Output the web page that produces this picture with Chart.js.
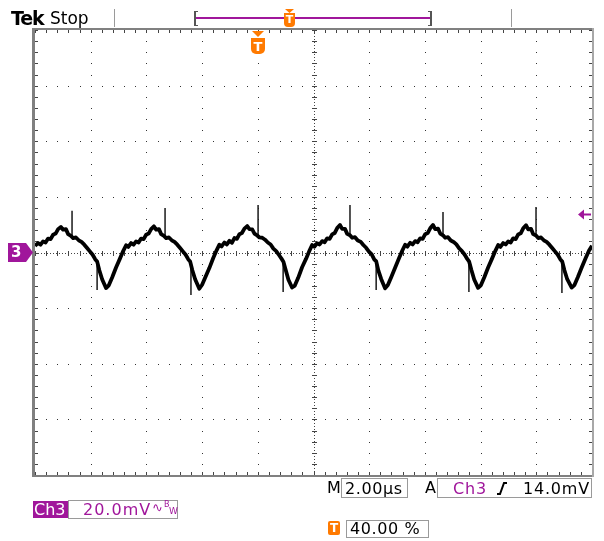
<!DOCTYPE html>
<html>
<head>
<meta charset="utf-8">
<script src="https://cdn.jsdelivr.net/npm/chart.js@4.4.0/dist/chart.umd.min.js"></script>
<style>
  html, body { margin: 0; padding: 0; background: #fff; }
  #scope { position: relative; width: 604px; height: 541px; font-family: "DejaVu Sans", sans-serif; overflow: hidden; }
  #scope canvas { position: absolute; left: 0; top: 0; }
  .lbl { position: absolute; white-space: nowrap; line-height: 1; font-size: 16px; color: #000; }
  .box { position: absolute; border: 1px solid #9a9a9a; box-sizing: border-box; }
  .mag { color: #a0169b; }
  .vline { position: absolute; width: 1px; background: #9a9a9a; }
  .tmark { position: absolute; background: #ff7a00; color: #fff; font-weight: bold; text-align: center; line-height: 1; }
</style>
</head>
<body>
<div id="scope">
  <canvas id="chart" width="604" height="541"></canvas>

  <!-- header -->
  <div class="lbl" style="left:11px;top:9px;font-size:19px;font-weight:bold;letter-spacing:-1.2px">Tek</div>
  <div class="lbl" style="left:50px;top:10px;font-size:17px">Stop</div>
  <div class="vline" style="left:114px;top:9px;height:18px"></div>
  <div class="vline" style="left:511px;top:9px;height:18px"></div>
  <div style="position:absolute;left:194px;top:11px;width:2px;height:15px;background:#555"></div>
  <div style="position:absolute;left:194px;top:11px;width:4px;height:1px;background:#555"></div>
  <div style="position:absolute;left:194px;top:25px;width:4px;height:1px;background:#555"></div>
  <div style="position:absolute;left:430px;top:11px;width:2px;height:15px;background:#555"></div>
  <div style="position:absolute;left:428px;top:11px;width:4px;height:1px;background:#555"></div>
  <div style="position:absolute;left:428px;top:25px;width:4px;height:1px;background:#555"></div>
  <div style="position:absolute;left:196px;top:17px;width:234px;height:2px;background:#a0169b"></div>
  <div class="tmark" style="left:285px;top:9px;width:9px;height:4px;clip-path:polygon(0 0,100% 0,50% 100%)"></div>
  <div class="tmark" style="left:284px;top:13px;width:11px;height:14px;font-size:11px;padding-top:1px;box-sizing:border-box;border-radius:0 0 4px 4px">T</div>

  <!-- trigger position marker under the frame -->
  <div class="tmark" style="left:252px;top:31px;width:12px;height:6px;clip-path:polygon(0 0,100% 0,50% 100%)"></div>
  <div class="tmark" style="left:251px;top:38px;width:14px;height:16px;font-size:13px;padding-top:2px;box-sizing:border-box;border-radius:0 0 5px 5px">T</div>

  <!-- channel 3 ground marker -->
  <div style="position:absolute;left:8px;top:243px;width:25px;height:19px;background:#a0169b;clip-path:polygon(0 0,72% 0,100% 50%,72% 100%,0 100%)"></div>
  <div class="lbl" style="left:11px;top:245px;font-size:15px;font-weight:bold;color:#fff">3</div>

  <!-- footer -->
  <div style="position:absolute;left:33px;top:501px;width:35px;height:17px;background:#a0169b"></div>
  <div class="lbl" style="left:34px;top:502px;color:#fff">Ch3</div>
  <div class="box" style="left:68px;top:500px;width:110px;height:19px"></div>
  <div class="lbl mag" style="left:83px;top:502px;letter-spacing:1px">20.0mV</div>
  <div class="lbl mag" style="left:152px;top:501px;font-size:13px">∿</div>
  <div class="lbl mag" style="left:164px;top:501px;font-size:8px">B</div>
  <div class="lbl mag" style="left:169px;top:507px;font-size:9px">W</div>

  <div class="lbl" style="left:327px;top:480px">M</div>
  <div class="box" style="left:341px;top:478px;width:67px;height:20px"></div>
  <div class="lbl" style="left:345px;top:481px;letter-spacing:0.6px">2.00µs</div>
  <div class="lbl" style="left:425px;top:480px">A</div>
  <div class="box" style="left:437px;top:478px;width:155px;height:20px"></div>
  <div class="lbl mag" style="left:453px;top:481px;letter-spacing:0.8px">Ch3</div>
  <svg style="position:absolute;left:496px;top:481px" width="12" height="15">
    <path d="M1 13 H4 L8 2 H11" fill="none" stroke="#000" stroke-width="2"/>
  </svg>
  <div class="lbl" style="left:523px;top:481px;letter-spacing:0.8px">14.0mV</div>

  <div class="tmark" style="left:328px;top:521px;width:12px;height:14px;font-size:12px;padding-top:1px;box-sizing:border-box;border-radius:2px">T</div>
  <div class="box" style="left:346px;top:520px;width:83px;height:18px"></div>
  <div class="lbl" style="left:350px;top:521px;letter-spacing:0.6px">40.00 %</div>
</div>

<script>
// Ch3 izi: vaqt (µs) va kuchlanish (mV), 2.00 µs/div, 20.0 mV/div.

const X_MIN = 0, X_MAX = 20, X_DIV = 2;
const Y_MIN = -80, Y_MAX = 80, Y_DIV = 20;
const TRIG_LEVEL = 14.0; // mV

const MAG = "#a0169b";

// asosiy iz (shovqinli uchburchaksimon to'lqin)
const traceT = [
  0.00, 0.11, 0.20, 0.29, 0.38, 0.47, 0.56, 0.65, 0.74, 0.83, 0.93, 1.01, 1.11, 1.19, 1.29, 1.37, 1.47, 1.57, 1.67, 1.77, 1.87, 1.97, 2.07, 2.16, 2.23, 2.31, 2.41,
  2.55, 2.65, 2.77, 2.91, 3.05, 3.17, 3.27, 3.35, 3.45, 3.54, 3.63, 3.72, 3.81, 3.90, 3.99, 4.08, 4.17, 4.27, 4.35, 4.45, 4.53, 4.63, 4.71, 4.81, 4.91, 5.01, 5.11, 5.21, 5.31, 5.41, 5.50, 5.57, 5.65, 5.75,
  5.90, 6.00, 6.12, 6.26, 6.40, 6.52, 6.62, 6.70, 6.80, 6.89, 6.98, 7.07, 7.16, 7.25, 7.34, 7.43, 7.52, 7.62, 7.70, 7.80, 7.88, 7.98, 8.06, 8.16, 8.26, 8.36, 8.46, 8.56, 8.66, 8.76, 8.85, 8.92, 9.00, 9.10,
  9.23, 9.33, 9.45, 9.59, 9.73, 9.85, 9.95, 10.03, 10.13, 10.22, 10.31, 10.40, 10.49, 10.58, 10.67, 10.76, 10.85, 10.95, 11.03, 11.13, 11.21, 11.31, 11.39, 11.49, 11.59, 11.69, 11.79, 11.89, 11.99, 12.09, 12.18, 12.25, 12.33, 12.43,
  12.57, 12.67, 12.79, 12.93, 13.07, 13.19, 13.29, 13.37, 13.47, 13.56, 13.65, 13.74, 13.83, 13.92, 14.01, 14.10, 14.19, 14.29, 14.37, 14.47, 14.55, 14.65, 14.73, 14.83, 14.93, 15.03, 15.13, 15.23, 15.33, 15.43, 15.52, 15.59, 15.67, 15.77,
  15.91, 16.01, 16.13, 16.27, 16.41, 16.53, 16.63, 16.71, 16.81, 16.90, 16.99, 17.08, 17.17, 17.26, 17.35, 17.44, 17.53, 17.63, 17.71, 17.81, 17.89, 17.99, 18.07, 18.17, 18.27, 18.37, 18.47, 18.57, 18.67, 18.77, 18.86, 18.93, 19.01, 19.11,
  19.27, 19.37, 19.49, 19.63, 19.77, 19.89, 20.00,
];
const traceMV = [
  2.4, 3.4, 2.8, 4.0, 3.6, 5.0, 4.8, 6.4, 6.8, 8.4, 9.2, 8.2, 8.4, 6.6, 6.0, 5.2, 5.4, 4.4, 3.8, 2.8, 1.6, 0.4, -0.8, -2.4, -3.2, -6.4, -9.6,
  -12.8, -11.8, -9.0, -5.4, -2.2, 0.6, 2.6, 2.0, 3.4, 2.8, 4.0, 3.6, 5.0, 4.8, 6.4, 6.8, 8.4, 9.4, 8.2, 8.4, 6.6, 6.0, 5.2, 5.4, 4.4, 3.8, 2.8, 1.6, 0.4, -0.8, -2.4, -3.2, -6.4, -9.6,
  -13.0, -11.6, -8.8, -5.6, -2.0, 0.8, 2.8, 2.2, 3.6, 2.9, 4.2, 3.5, 5.2, 4.9, 6.6, 7.0, 8.6, 9.5, 8.4, 8.3, 6.8, 6.1, 5.4, 5.3, 4.6, 3.6, 2.9, 1.4, 0.5, -0.9, -2.2, -3.3, -6.2, -9.8,
  -12.6, -11.9, -9.1, -5.3, -2.3, 0.5, 2.7, 2.1, 3.3, 2.9, 4.1, 3.7, 5.1, 4.9, 6.5, 7.0, 8.8, 9.9, 8.5, 8.5, 6.7, 6.2, 5.3, 5.5, 4.3, 3.9, 2.7, 1.7, 0.3, -0.7, -2.5, -3.1, -6.5, -9.5,
  -12.9, -11.7, -8.9, -5.5, -2.1, 0.7, 2.8, 2.1, 3.5, 2.9, 4.1, 3.7, 5.1, 4.9, 6.6, 7.0, 8.7, 9.9, 8.4, 8.6, 6.8, 6.2, 5.3, 5.5, 4.3, 3.8, 2.9, 1.5, 0.5, -0.8, -2.3, -3.3, -6.3, -9.7,
  -12.7, -11.8, -9.0, -5.4, -2.2, 0.6, 2.7, 2.0, 3.4, 2.9, 4.0, 3.6, 5.1, 4.8, 6.5, 6.9, 8.7, 9.8, 8.3, 8.5, 6.6, 6.1, 5.2, 5.4, 4.4, 3.8, 2.8, 1.6, 0.4, -0.8, -2.4, -3.2, -6.4, -9.6,
  -12.6, -11.7, -8.9, -5.4, -2.1, 0.6, 2.4,
];

// ingichka ignalar (yuqoriga va pastga)
const spikeUpT      = [1.33, 4.67, 8.01, 11.31, 14.65, 17.99];
const spikeUpBase   = [5.8, 5.8, 5.8, 6.0, 6.0, 5.8];
const spikeUpTop    = [15.0, 16.0, 17.1, 17.1, 14.6, 16.4];
const spikeDownT      = [2.23, 5.60, 8.91, 12.25, 15.58, 18.92];
const spikeDownBase   = [-3.2, -3.2, -3.2, -3.1, -3.3, -3.2];
const spikeDownBottom = [-13.5, -15.3, -14.2, -13.5, -14.2, -14.6];

const tracePts = traceT.map((t, i) => ({ x: t, y: traceMV[i] }));
const spikePts = [];
spikeUpT.forEach((t, i) => {
  spikePts.push({ x: t, y: spikeUpBase[i] }, { x: t, y: spikeUpTop[i] }, { x: t, y: null });
});
spikeDownT.forEach((t, i) => {
  spikePts.push({ x: t, y: spikeDownBase[i] }, { x: t, y: spikeDownBottom[i] }, { x: t, y: null });
});

// ossillograf to'ri: nuqtali chiziqlar, markaziy o'qlar va ramka
const graticule = {
  id: "graticule",
  beforeDatasetsDraw(chart) {
    const { ctx, chartArea: a, scales: { x, y } } = chart;
    const px = (v) => Math.round(x.getPixelForValue(v));
    const py = (v) => Math.round(y.getPixelForValue(v));
    ctx.save();

    // katak nuqtalari
    ctx.fillStyle = "#333";
    for (let v = X_MIN + X_DIV; v < X_MAX; v += X_DIV) {
      if (v === (X_MIN + X_MAX) / 2) continue;
      for (let s = Y_MIN; s <= Y_MAX + 1e-9; s += Y_DIV / 5) ctx.fillRect(px(v), py(s), 1, 1);
    }
    for (let v = Y_MIN + Y_DIV; v < Y_MAX; v += Y_DIV) {
      if (v === 0) continue;
      for (let s = X_MIN; s <= X_MAX + 1e-9; s += X_DIV / 5) ctx.fillRect(px(s), py(v), 1, 1);
    }

    // markaziy chiziqlar
    const cx = px((X_MIN + X_MAX) / 2), cy = py(0);
    ctx.strokeStyle = "#444";
    ctx.lineWidth = 1;
    ctx.setLineDash([1, 2]);
    ctx.beginPath();
    ctx.moveTo(a.left, cy + 0.5); ctx.lineTo(a.right, cy + 0.5);
    ctx.moveTo(cx + 0.5, a.top); ctx.lineTo(cx + 0.5, a.bottom);
    ctx.stroke();
    ctx.setLineDash([]);

    ctx.beginPath();
    for (let s = X_MIN; s <= X_MAX + 1e-9; s += X_DIV / 5) {
      const p = px(s) + 0.5;
      ctx.moveTo(p, cy - 2); ctx.lineTo(p, cy + 3);
      ctx.moveTo(p, a.top); ctx.lineTo(p, a.top + 3);
      ctx.moveTo(p, a.bottom - 3); ctx.lineTo(p, a.bottom);
    }
    for (let s = Y_MIN; s <= Y_MAX + 1e-9; s += Y_DIV / 5) {
      const p = py(s) + 0.5;
      ctx.moveTo(cx - 2, p); ctx.lineTo(cx + 3, p);
      ctx.moveTo(a.left, p); ctx.lineTo(a.left + 3, p);
      ctx.moveTo(a.right - 3, p); ctx.lineTo(a.right, p);
    }
    ctx.stroke();

    // ramka
    ctx.fillStyle = "#808080";
    ctx.fillRect(a.left - 2, a.top - 2, a.right - a.left + 4, 2);
    ctx.fillRect(a.left - 2, a.bottom, a.right - a.left + 4, 2);
    ctx.fillRect(a.left - 3, a.top - 2, 3, a.bottom - a.top + 4);
    ctx.fillStyle = "#a8a8a8";
    ctx.fillRect(a.right, a.top - 2, 2, a.bottom - a.top + 4);
    ctx.restore();
  },
  afterDatasetsDraw(chart) {
    // trigger darajasi strelkasi (o'ngda)
    const { ctx, chartArea: a, scales: { y } } = chart;
    const ty = Math.round(y.getPixelForValue(TRIG_LEVEL)) + 0.5;
    ctx.save();
    ctx.fillStyle = MAG;
    ctx.strokeStyle = MAG;
    ctx.beginPath();
    ctx.moveTo(a.right - 14, ty);
    ctx.lineTo(a.right - 8, ty - 5);
    ctx.lineTo(a.right - 8, ty + 5);
    ctx.closePath();
    ctx.fill();
    ctx.lineWidth = 2;
    ctx.beginPath();
    ctx.moveTo(a.right - 9, ty); ctx.lineTo(a.right - 1, ty);
    ctx.stroke();
    ctx.restore();
  },
};

new Chart(document.getElementById("chart"), {
  type: "line",
  data: {
    datasets: [
      {
        label: "Ch3",
        data: tracePts,
        borderColor: "#000",
        borderWidth: 3.8,
        borderJoinStyle: "round",
        pointRadius: 0,
        tension: 0,
      },
      {
        label: "spikes",
        data: spikePts,
        borderColor: "#1a1a1a",
        borderWidth: 1.5,
        pointRadius: 0,
        spanGaps: false,
      },
    ],
  },
  options: {
    responsive: false,
    animation: false,
    devicePixelRatio: 1,
    layout: { padding: { left: 35, right: 12, top: 30, bottom: 66 } },
    scales: {
      x: { type: "linear", min: X_MIN, max: X_MAX, display: false },
      y: { type: "linear", min: Y_MIN, max: Y_MAX, display: false },
    },
    plugins: { legend: { display: false }, tooltip: { enabled: false } },
  },
  plugins: [graticule],
});
</script>
</body>
</html>
